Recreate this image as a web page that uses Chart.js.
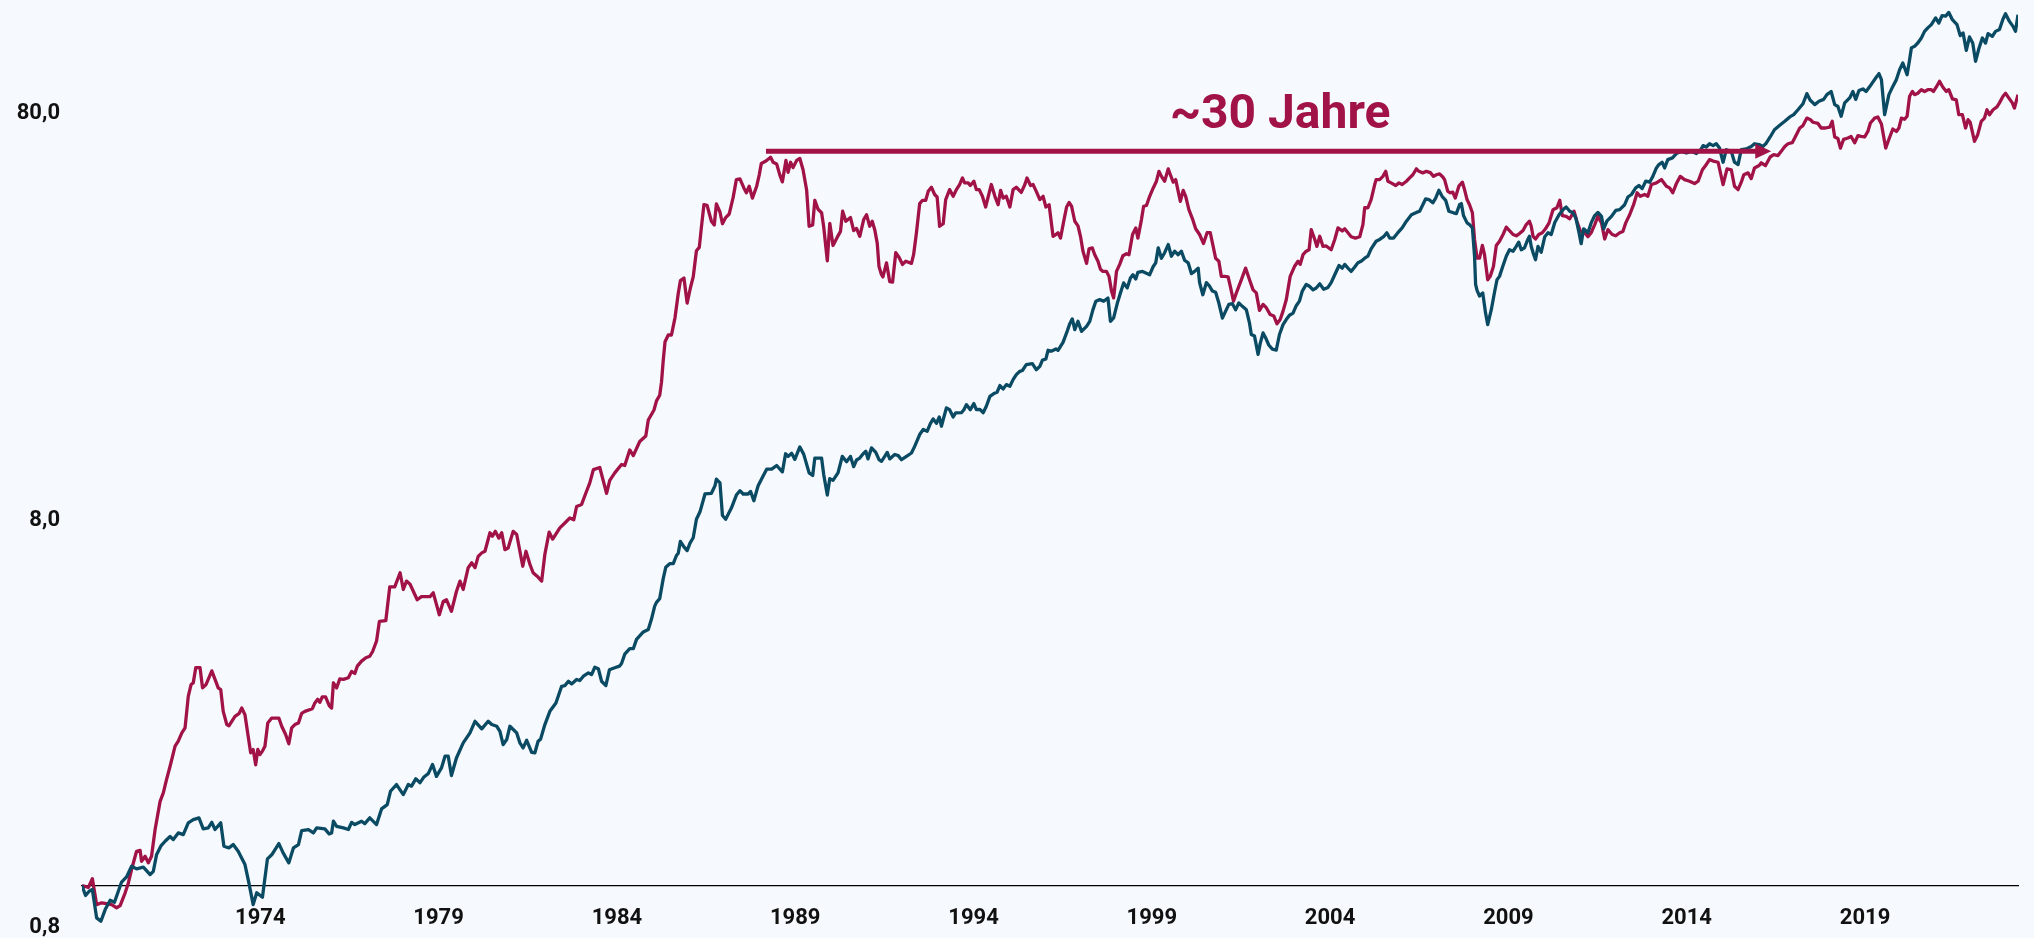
<!DOCTYPE html>
<html>
<head>
<meta charset="utf-8">
<script src="https://cdn.jsdelivr.net/npm/chart.js@4.4.1/dist/chart.umd.min.js"></script>
<style>
  html, body { margin: 0; padding: 0; background: #F6FAFE; }
  canvas { display: block; }
</style>
</head>
<body>
<canvas id="chart" width="2034" height="938"></canvas>
<script>
// tick labels
var yearTicks = [1974, 1979, 1984, 1989, 1994, 1999, 2004, 2009, 2014, 2019];
var valueTicks = [0.8, 8, 80];

// [year, index value]
var redPoints = [
  [1969.00, 1.00], [1969.18, 0.99], [1969.29, 1.04], [1969.41, 0.898], [1969.55, 0.907], [1969.69, 0.903], [1969.83, 0.898], [1969.97, 0.882],
  [1970.07, 0.893], [1970.21, 0.96], [1970.30, 1.015], [1970.39, 1.095], [1970.53, 1.214], [1970.63, 1.22], [1970.67, 1.147], [1970.77, 1.18],
  [1970.86, 1.137], [1970.95, 1.18], [1971.05, 1.373], [1971.19, 1.61], [1971.28, 1.69], [1971.37, 1.82], [1971.47, 1.964], [1971.61, 2.2],
  [1971.70, 2.263], [1971.80, 2.372], [1971.89, 2.44], [1971.98, 2.918], [1972.06, 3.12], [1972.12, 3.148], [1972.19, 3.43], [1972.31, 3.43],
  [1972.38, 3.06], [1972.48, 3.12], [1972.54, 3.21], [1972.64, 3.37], [1972.73, 3.21], [1972.82, 3.06], [1972.89, 3.03], [1972.96, 2.68],
  [1973.06, 2.487], [1973.12, 2.47], [1973.20, 2.533], [1973.29, 2.606], [1973.41, 2.65], [1973.48, 2.73], [1973.57, 2.63], [1973.66, 2.327],
  [1973.73, 2.12], [1973.80, 2.16], [1973.87, 1.98], [1973.93, 2.16], [1973.99, 2.098], [1974.06, 2.14], [1974.13, 2.2], [1974.21, 2.51],
  [1974.32, 2.58], [1974.52, 2.58], [1974.60, 2.463], [1974.71, 2.35], [1974.80, 2.23], [1974.88, 2.44], [1974.97, 2.487], [1975.07, 2.51],
  [1975.16, 2.65], [1975.25, 2.68], [1975.46, 2.72], [1975.53, 2.81], [1975.61, 2.87], [1975.67, 2.82], [1975.74, 2.91], [1975.83, 2.91],
  [1975.93, 2.77], [1976.00, 2.73], [1976.05, 3.15], [1976.14, 3.06], [1976.23, 3.22], [1976.33, 3.21], [1976.47, 3.24], [1976.56, 3.36],
  [1976.65, 3.32], [1976.72, 3.46], [1976.84, 3.56], [1976.96, 3.63], [1977.07, 3.66], [1977.15, 3.76], [1977.26, 3.99], [1977.34, 4.46],
  [1977.52, 4.48], [1977.63, 5.42], [1977.77, 5.42], [1977.92, 5.87], [1978.01, 5.34], [1978.10, 5.6], [1978.20, 5.5], [1978.40, 5.04],
  [1978.52, 5.13], [1978.76, 5.13], [1978.85, 5.24], [1979.02, 4.63], [1979.13, 4.99], [1979.22, 5.04], [1979.36, 4.72], [1979.50, 5.28],
  [1979.60, 5.6], [1979.69, 5.34], [1979.83, 6.04], [1979.93, 6.21], [1980.02, 6.04], [1980.11, 6.44], [1980.21, 6.57], [1980.30, 6.63],
  [1980.44, 7.36], [1980.51, 7.22], [1980.59, 7.42], [1980.69, 7.14], [1980.77, 7.36], [1980.86, 6.69], [1980.95, 6.75], [1981.09, 7.42],
  [1981.19, 7.29], [1981.36, 6.09], [1981.45, 6.63], [1981.56, 6.16], [1981.65, 5.87], [1981.77, 5.75], [1981.89, 5.6], [1981.98, 6.52],
  [1982.10, 7.39], [1982.20, 7.1], [1982.40, 7.57], [1982.54, 7.78], [1982.68, 8.0], [1982.79, 7.92], [1982.87, 8.54], [1983.01, 8.64],
  [1983.13, 9.22], [1983.24, 9.76], [1983.34, 10.52], [1983.52, 10.65], [1983.71, 9.2], [1983.80, 9.9], [1983.94, 10.33], [1984.13, 10.83],
  [1984.22, 10.77], [1984.36, 11.76], [1984.46, 11.39], [1984.64, 12.34], [1984.81, 12.73], [1984.88, 13.93], [1985.04, 14.74], [1985.11, 15.53],
  [1985.20, 16.03], [1985.25, 17.25], [1985.30, 19.55], [1985.35, 21.7], [1985.44, 22.54], [1985.53, 22.54], [1985.63, 24.87], [1985.72, 28.5],
  [1985.78, 30.65], [1985.88, 31.1], [1985.97, 27.0], [1986.06, 29.4], [1986.14, 31.3], [1986.23, 36.3], [1986.31, 37.0], [1986.37, 41.5],
  [1986.44, 47.1], [1986.53, 46.9], [1986.65, 42.9], [1986.73, 42.0], [1986.79, 47.3], [1986.89, 45.2], [1986.96, 42.3], [1987.05, 43.8],
  [1987.15, 44.7], [1987.26, 49.1], [1987.35, 54.3], [1987.45, 54.5], [1987.56, 51.8], [1987.63, 50.4], [1987.71, 52.3], [1987.80, 48.9],
  [1987.92, 52.3], [1987.99, 55.7], [1988.05, 59.5], [1988.18, 60.3], [1988.31, 61.6], [1988.38, 59.9], [1988.48, 59.3], [1988.57, 55.7],
  [1988.64, 53.6], [1988.74, 60.5], [1988.80, 56.6], [1988.87, 59.9], [1988.94, 58.1], [1989.04, 60.5], [1989.13, 61.2], [1989.22, 57.4],
  [1989.32, 51.2], [1989.39, 41.7], [1989.49, 42.0], [1989.55, 48.3], [1989.64, 45.9], [1989.74, 45.0], [1989.80, 41.5], [1989.90, 34.3],
  [1989.97, 42.4], [1990.06, 37.4], [1990.18, 39.2], [1990.27, 40.5], [1990.33, 45.4], [1990.42, 42.9], [1990.55, 43.8], [1990.64, 40.7],
  [1990.72, 41.2], [1990.81, 39.4], [1990.92, 43.3], [1991.00, 44.5], [1991.09, 41.7], [1991.16, 42.9], [1991.23, 40.9], [1991.30, 37.9],
  [1991.35, 33.2], [1991.42, 31.7], [1991.46, 31.3], [1991.56, 33.9], [1991.65, 30.5], [1991.73, 30.4], [1991.82, 35.9], [1991.91, 35.0],
  [1992.01, 33.6], [1992.10, 34.2], [1992.26, 33.8], [1992.32, 35.5], [1992.40, 40.2], [1992.49, 47.4], [1992.57, 48.3], [1992.66, 48.3],
  [1992.73, 50.8], [1992.82, 52.0], [1992.91, 49.9], [1992.98, 49.2], [1993.05, 41.7], [1993.15, 42.3], [1993.22, 48.5], [1993.33, 51.3],
  [1993.43, 49.4], [1993.52, 51.3], [1993.61, 52.8], [1993.69, 54.8], [1993.75, 53.3], [1993.85, 53.3], [1993.91, 52.5], [1994.01, 53.8],
  [1994.08, 51.3], [1994.16, 51.3], [1994.25, 49.4], [1994.34, 46.5], [1994.44, 50.4], [1994.50, 52.8], [1994.60, 49.4], [1994.69, 47.1],
  [1994.76, 51.1], [1994.83, 48.9], [1994.92, 49.4], [1995.02, 46.5], [1995.11, 51.3], [1995.20, 52.0], [1995.34, 50.5], [1995.44, 52.8],
  [1995.50, 54.8], [1995.60, 52.5], [1995.67, 52.8], [1995.76, 50.8], [1995.86, 48.5], [1995.95, 49.4], [1996.03, 46.5], [1996.12, 47.1],
  [1996.23, 39.4], [1996.31, 39.8], [1996.37, 40.2], [1996.44, 39.0], [1996.53, 42.9], [1996.61, 46.5], [1996.68, 47.7], [1996.75, 46.7],
  [1996.84, 42.9], [1996.93, 41.8], [1997.00, 39.4], [1997.07, 36.2], [1997.17, 33.8], [1997.24, 36.7], [1997.33, 36.9], [1997.40, 35.5],
  [1997.49, 34.2], [1997.56, 32.7], [1997.63, 32.3], [1997.73, 32.3], [1997.80, 31.4], [1997.87, 28.9], [1997.93, 27.8], [1998.01, 32.3],
  [1998.10, 33.6], [1998.19, 35.3], [1998.29, 35.7], [1998.36, 35.5], [1998.46, 39.8], [1998.55, 41.3], [1998.61, 39.0], [1998.71, 43.3],
  [1998.77, 46.7], [1998.85, 46.9], [1998.94, 49.4], [1999.04, 51.8], [1999.13, 53.8], [1999.20, 56.9], [1999.27, 55.3], [1999.36, 53.8],
  [1999.46, 57.7], [1999.52, 55.8], [1999.60, 53.5], [1999.67, 54.3], [1999.74, 50.8], [1999.80, 48.0], [1999.88, 51.1], [1999.95, 49.4],
  [2000.04, 45.8], [2000.14, 43.5], [2000.23, 41.1], [2000.34, 39.8], [2000.45, 37.8], [2000.55, 40.2], [2000.64, 40.2], [2000.71, 37.6],
  [2000.79, 34.8], [2000.88, 34.2], [2000.95, 31.4], [2001.04, 31.4], [2001.14, 31.3], [2001.20, 29.7], [2001.29, 27.3], [2001.39, 28.9],
  [2001.51, 30.8], [2001.63, 32.9], [2001.74, 30.8], [2001.84, 29.1], [2001.93, 28.6], [2002.02, 25.9], [2002.12, 26.8], [2002.21, 26.3],
  [2002.32, 25.3], [2002.42, 25.1], [2002.51, 24.0], [2002.60, 24.6], [2002.68, 25.8], [2002.77, 27.5], [2002.88, 31.4], [2003.00, 33.2],
  [2003.10, 34.2], [2003.16, 33.6], [2003.24, 35.5], [2003.33, 36.2], [2003.41, 36.5], [2003.47, 40.9], [2003.57, 38.7], [2003.63, 37.2],
  [2003.71, 39.4], [2003.80, 37.2], [2003.89, 37.3], [2004.03, 36.5], [2004.13, 38.7], [2004.22, 41.3], [2004.34, 40.6], [2004.41, 41.1],
  [2004.50, 40.2], [2004.59, 39.3], [2004.71, 39.0], [2004.83, 39.3], [2004.92, 42.1], [2004.97, 46.3], [2005.06, 46.3], [2005.15, 48.5],
  [2005.25, 52.8], [2005.29, 54.3], [2005.39, 54.3], [2005.48, 55.3], [2005.56, 56.9], [2005.62, 53.8], [2005.71, 53.3], [2005.84, 52.5],
  [2005.93, 53.3], [2006.02, 52.8], [2006.14, 53.8], [2006.23, 54.8], [2006.32, 55.8], [2006.42, 57.7], [2006.49, 56.9], [2006.60, 56.4],
  [2006.70, 56.9], [2006.81, 56.5], [2006.90, 55.3], [2006.98, 55.8], [2007.07, 56.1], [2007.16, 55.1], [2007.21, 54.3], [2007.30, 50.8],
  [2007.37, 50.4], [2007.44, 50.6], [2007.51, 48.9], [2007.61, 52.3], [2007.71, 53.5], [2007.77, 51.3], [2007.84, 48.5], [2007.91, 47.1],
  [2007.99, 45.0], [2008.05, 38.7], [2008.12, 34.8], [2008.19, 34.8], [2008.27, 37.4], [2008.33, 35.5], [2008.42, 30.8], [2008.49, 31.4],
  [2008.58, 33.2], [2008.66, 37.4], [2008.75, 38.3], [2008.85, 39.8], [2008.94, 41.5], [2009.03, 40.7], [2009.13, 39.8], [2009.22, 39.5],
  [2009.31, 40.0], [2009.41, 40.7], [2009.50, 42.1], [2009.59, 42.9], [2009.64, 41.7], [2009.69, 39.4], [2009.76, 38.8], [2009.85, 39.8],
  [2009.95, 40.2], [2010.04, 41.1], [2010.14, 42.5], [2010.25, 45.8], [2010.36, 46.3], [2010.44, 48.3], [2010.51, 44.3], [2010.62, 44.1],
  [2010.72, 43.5], [2010.84, 45.4], [2010.92, 42.9], [2011.02, 40.5], [2011.14, 40.2], [2011.23, 39.3], [2011.32, 40.2], [2011.42, 42.1],
  [2011.51, 44.1], [2011.61, 42.5], [2011.70, 38.8], [2011.79, 40.9], [2011.91, 39.8], [2012.01, 39.5], [2012.12, 40.2], [2012.21, 40.5],
  [2012.29, 42.5], [2012.40, 44.5], [2012.51, 47.1], [2012.61, 50.4], [2012.70, 49.4], [2012.82, 49.9], [2012.91, 49.4], [2013.01, 52.8],
  [2013.15, 53.3], [2013.29, 54.3], [2013.43, 52.3], [2013.52, 51.8], [2013.61, 50.4], [2013.71, 53.1], [2013.82, 55.3], [2013.94, 54.3],
  [2014.08, 53.8], [2014.22, 53.1], [2014.32, 53.8], [2014.44, 57.4], [2014.53, 58.8], [2014.64, 60.8], [2014.74, 60.3], [2014.88, 59.9],
  [2015.02, 52.8], [2015.13, 57.7], [2015.25, 57.4], [2015.34, 52.3], [2015.44, 51.3], [2015.53, 53.5], [2015.60, 55.8], [2015.72, 56.4],
  [2015.81, 54.6], [2015.90, 58.0], [2016.03, 58.8], [2016.09, 59.7], [2016.21, 58.8], [2016.34, 61.7], [2016.44, 62.5], [2016.56, 62.2],
  [2016.65, 63.7], [2016.75, 65.5], [2016.84, 66.5], [2016.96, 66.9], [2017.05, 69.3], [2017.17, 72.7], [2017.26, 73.7], [2017.37, 76.9],
  [2017.47, 76.2], [2017.54, 75.1], [2017.68, 74.6], [2017.77, 72.7], [2017.89, 72.7], [2018.01, 73.1], [2018.08, 75.5], [2018.15, 69.1],
  [2018.24, 68.5], [2018.31, 64.9], [2018.40, 68.2], [2018.52, 68.7], [2018.61, 69.3], [2018.71, 66.9], [2018.80, 69.6], [2018.89, 69.3],
  [2018.99, 69.1], [2019.08, 71.3], [2019.15, 74.8], [2019.27, 76.9], [2019.36, 77.4], [2019.46, 74.4], [2019.58, 64.9], [2019.67, 68.2],
  [2019.78, 72.3], [2019.88, 71.3], [2019.95, 72.7], [2020.02, 76.9], [2020.11, 76.4], [2020.18, 77.7], [2020.25, 87.0], [2020.33, 89.4],
  [2020.39, 87.8], [2020.48, 88.5], [2020.58, 90.3], [2020.67, 89.4], [2020.76, 90.3], [2020.86, 90.3], [2020.92, 89.4], [2021.00, 91.7],
  [2021.09, 94.7], [2021.18, 91.7], [2021.28, 89.4], [2021.35, 90.3], [2021.45, 85.7], [2021.56, 85.2], [2021.63, 78.4], [2021.73, 78.4],
  [2021.82, 72.7], [2021.89, 76.2], [2021.95, 75.1], [2022.07, 67.4], [2022.16, 70.0], [2022.26, 75.5], [2022.35, 76.9], [2022.42, 80.6],
  [2022.49, 78.4], [2022.59, 80.6], [2022.70, 81.9], [2022.77, 83.8], [2022.87, 87.0], [2022.94, 88.5], [2023.03, 86.2], [2023.13, 83.8],
  [2023.19, 81.4], [2023.29, 87.8]
];

var bluePoints = [
  [1969.00, 1.00], [1969.10, 0.945], [1969.20, 0.968], [1969.29, 0.978], [1969.41, 0.833], [1969.53, 0.817], [1969.65, 0.873], [1969.79, 0.92],
  [1969.91, 0.91], [1970.11, 1.02], [1970.25, 1.05], [1970.39, 1.115], [1970.53, 1.099], [1970.72, 1.11], [1970.91, 1.064], [1971.00, 1.084],
  [1971.09, 1.19], [1971.22, 1.254], [1971.33, 1.285], [1971.47, 1.32], [1971.56, 1.297], [1971.70, 1.347], [1971.84, 1.334], [1971.98, 1.426],
  [1972.12, 1.452], [1972.28, 1.467], [1972.40, 1.378], [1972.54, 1.386], [1972.64, 1.43], [1972.73, 1.373], [1972.89, 1.426], [1972.98, 1.249],
  [1973.12, 1.238], [1973.24, 1.261], [1973.38, 1.214], [1973.57, 1.126], [1973.68, 1.015], [1973.80, 0.898], [1973.90, 0.96], [1974.06, 0.936],
  [1974.20, 1.163], [1974.32, 1.19], [1974.52, 1.268], [1974.64, 1.203], [1974.80, 1.137], [1974.93, 1.238], [1975.07, 1.261], [1975.16, 1.365],
  [1975.35, 1.373], [1975.49, 1.347], [1975.58, 1.386], [1975.81, 1.378], [1975.93, 1.34], [1976.00, 1.347], [1976.05, 1.439], [1976.14, 1.398],
  [1976.33, 1.386], [1976.47, 1.373], [1976.56, 1.43], [1976.65, 1.412], [1976.84, 1.439], [1976.93, 1.42], [1977.07, 1.467], [1977.26, 1.412],
  [1977.40, 1.543], [1977.56, 1.581], [1977.65, 1.705], [1977.82, 1.771], [1978.01, 1.673], [1978.15, 1.771], [1978.24, 1.755], [1978.36, 1.829],
  [1978.48, 1.79], [1978.59, 1.849], [1978.71, 1.884], [1978.83, 1.983], [1978.94, 1.855], [1979.08, 1.946], [1979.18, 2.079], [1979.27, 2.079],
  [1979.36, 1.864], [1979.50, 2.058], [1979.69, 2.242], [1979.88, 2.372], [1980.02, 2.533], [1980.21, 2.427], [1980.39, 2.533], [1980.49, 2.487],
  [1980.63, 2.463], [1980.72, 2.394], [1980.81, 2.221], [1980.91, 2.285], [1981.00, 2.463], [1981.19, 2.372], [1981.28, 2.242], [1981.37, 2.179],
  [1981.47, 2.275], [1981.61, 2.126], [1981.70, 2.12], [1981.79, 2.263], [1981.86, 2.29], [1981.98, 2.487], [1982.12, 2.68], [1982.29, 2.81],
  [1982.45, 3.088], [1982.54, 3.1], [1982.64, 3.177], [1982.73, 3.13], [1982.87, 3.21], [1982.96, 3.19], [1983.06, 3.269], [1983.20, 3.33],
  [1983.29, 3.3], [1983.38, 3.439], [1983.48, 3.41], [1983.57, 3.177], [1983.69, 3.1], [1983.79, 3.39], [1983.94, 3.43], [1984.07, 3.46],
  [1984.13, 3.513], [1984.22, 3.703], [1984.36, 3.82], [1984.46, 3.82], [1984.55, 4.026], [1984.74, 4.2], [1984.88, 4.26], [1984.97, 4.516],
  [1985.06, 4.86], [1985.11, 4.964], [1985.20, 5.07], [1985.30, 5.686], [1985.37, 6.055], [1985.48, 6.18], [1985.58, 6.18], [1985.67, 6.473],
  [1985.72, 6.557], [1985.78, 7.01], [1985.88, 6.795], [1985.97, 6.654], [1986.05, 6.94], [1986.14, 7.157], [1986.23, 7.947], [1986.33, 8.287],
  [1986.47, 9.167], [1986.65, 9.204], [1986.75, 9.6], [1986.79, 9.97], [1986.89, 9.76], [1986.96, 8.115], [1987.05, 7.947], [1987.21, 8.463],
  [1987.35, 9.11], [1987.45, 9.34], [1987.54, 9.167], [1987.68, 9.167], [1987.75, 9.3], [1987.84, 8.826], [1987.96, 9.6], [1988.10, 10.15],
  [1988.20, 10.55], [1988.34, 10.55], [1988.48, 10.77], [1988.64, 10.39], [1988.73, 11.51], [1988.80, 11.34], [1988.90, 11.54], [1988.99, 11.15],
  [1989.13, 11.96], [1989.24, 11.47], [1989.39, 10.33], [1989.49, 10.18], [1989.55, 11.23], [1989.74, 11.23], [1989.80, 10.22], [1989.90, 9.11],
  [1989.97, 10.0], [1990.06, 9.9], [1990.20, 10.33], [1990.32, 11.34], [1990.44, 11.0], [1990.55, 11.34], [1990.64, 10.7], [1990.72, 11.11],
  [1990.81, 11.23], [1990.90, 11.5], [1990.98, 11.67], [1991.04, 11.18], [1991.14, 11.9], [1991.26, 11.6], [1991.35, 11.13], [1991.42, 11.03],
  [1991.51, 11.34], [1991.58, 11.6], [1991.65, 11.18], [1991.79, 11.46], [1991.89, 11.39], [1991.98, 11.13], [1992.12, 11.34], [1992.26, 11.56],
  [1992.35, 12.0], [1992.49, 12.83], [1992.59, 13.2], [1992.70, 13.07], [1992.79, 13.65], [1992.87, 14.02], [1992.96, 13.67], [1993.04, 14.18],
  [1993.10, 13.45], [1993.24, 14.92], [1993.33, 14.77], [1993.43, 14.17], [1993.50, 14.5], [1993.66, 14.52], [1993.73, 14.77], [1993.80, 15.2],
  [1993.91, 14.77], [1994.01, 15.29], [1994.08, 14.77], [1994.18, 14.8], [1994.27, 14.52], [1994.36, 15.06], [1994.46, 15.93], [1994.57, 16.18],
  [1994.66, 16.3], [1994.74, 16.93], [1994.83, 16.61], [1994.92, 17.02], [1995.02, 16.87], [1995.11, 17.51], [1995.20, 18.01], [1995.30, 18.35],
  [1995.37, 18.44], [1995.48, 19.06], [1995.65, 19.17], [1995.76, 18.52], [1995.86, 18.87], [1995.93, 19.53], [1996.03, 19.69], [1996.09, 20.67],
  [1996.18, 20.57], [1996.31, 20.83], [1996.37, 20.67], [1996.44, 21.14], [1996.51, 21.62], [1996.61, 22.8], [1996.70, 24.03], [1996.77, 24.69],
  [1996.84, 23.23], [1996.93, 24.35], [1997.03, 23.0], [1997.17, 23.67], [1997.26, 24.35], [1997.35, 26.02], [1997.43, 27.28], [1997.54, 27.53],
  [1997.65, 27.28], [1997.77, 27.79], [1997.84, 24.35], [1997.93, 24.83], [1998.03, 26.92], [1998.12, 28.59], [1998.21, 30.26], [1998.31, 29.42],
  [1998.40, 31.12], [1998.47, 31.7], [1998.55, 30.94], [1998.61, 32.13], [1998.74, 32.3], [1998.94, 31.7], [1999.04, 33.2], [1999.11, 33.9],
  [1999.18, 36.9], [1999.27, 34.8], [1999.36, 35.9], [1999.46, 37.6], [1999.55, 35.2], [1999.64, 36.2], [1999.74, 35.5], [1999.83, 36.2],
  [1999.92, 34.4], [2000.02, 33.9], [2000.11, 31.9], [2000.20, 32.3], [2000.30, 32.9], [2000.34, 30.3], [2000.43, 28.3], [2000.53, 30.3],
  [2000.62, 29.7], [2000.70, 28.9], [2000.79, 28.7], [2000.88, 27.0], [2000.98, 24.8], [2001.07, 25.8], [2001.16, 26.8], [2001.26, 26.9],
  [2001.35, 26.0], [2001.44, 27.0], [2001.54, 26.5], [2001.65, 26.0], [2001.74, 24.1], [2001.79, 22.6], [2001.88, 22.4], [2001.98, 20.2],
  [2002.04, 21.5], [2002.12, 22.8], [2002.19, 22.2], [2002.28, 21.3], [2002.38, 20.8], [2002.49, 20.7], [2002.58, 22.6], [2002.68, 23.9],
  [2002.77, 24.6], [2002.86, 25.2], [2002.96, 25.5], [2003.05, 26.6], [2003.14, 27.3], [2003.22, 28.9], [2003.33, 30.0], [2003.42, 29.7],
  [2003.52, 29.1], [2003.61, 29.4], [2003.71, 30.1], [2003.82, 29.2], [2003.94, 29.5], [2004.03, 30.3], [2004.13, 31.7], [2004.25, 33.4],
  [2004.34, 32.9], [2004.41, 33.6], [2004.50, 32.9], [2004.59, 32.3], [2004.69, 33.1], [2004.78, 33.9], [2004.87, 34.2], [2004.97, 34.8],
  [2005.06, 35.2], [2005.15, 36.7], [2005.29, 38.3], [2005.39, 38.7], [2005.50, 39.3], [2005.59, 40.2], [2005.67, 39.0], [2005.78, 39.0],
  [2005.90, 40.2], [2006.02, 41.3], [2006.14, 42.9], [2006.28, 44.5], [2006.42, 45.1], [2006.51, 45.4], [2006.60, 47.1], [2006.68, 48.7],
  [2006.77, 48.5], [2006.88, 47.6], [2006.96, 48.9], [2007.05, 51.1], [2007.14, 49.4], [2007.24, 48.3], [2007.33, 45.4], [2007.46, 45.0],
  [2007.54, 44.8], [2007.63, 47.1], [2007.68, 47.4], [2007.74, 44.3], [2007.84, 42.5], [2007.91, 42.1], [2007.99, 41.3], [2008.05, 35.2],
  [2008.08, 30.0], [2008.12, 29.0], [2008.19, 28.1], [2008.28, 28.6], [2008.36, 25.5], [2008.42, 23.9], [2008.52, 26.0], [2008.61, 28.7],
  [2008.68, 30.8], [2008.75, 31.4], [2008.85, 33.4], [2008.94, 35.2], [2009.03, 36.5], [2009.13, 36.2], [2009.22, 37.2], [2009.29, 38.1],
  [2009.36, 36.5], [2009.45, 36.9], [2009.55, 38.8], [2009.59, 39.4], [2009.64, 37.2], [2009.71, 35.5], [2009.76, 34.5], [2009.83, 37.2],
  [2009.92, 36.0], [2010.02, 39.3], [2010.11, 40.2], [2010.20, 39.8], [2010.30, 42.6], [2010.42, 44.5], [2010.53, 45.8], [2010.62, 46.5],
  [2010.72, 45.4], [2010.81, 45.0], [2010.89, 43.7], [2010.98, 40.2], [2011.04, 37.8], [2011.11, 41.1], [2011.23, 40.2], [2011.32, 42.5],
  [2011.42, 44.3], [2011.51, 45.1], [2011.61, 44.1], [2011.67, 41.1], [2011.76, 42.9], [2011.89, 44.1], [2012.01, 45.6], [2012.12, 45.8],
  [2012.26, 47.1], [2012.35, 49.2], [2012.45, 49.9], [2012.57, 51.8], [2012.66, 52.5], [2012.75, 51.6], [2012.85, 53.8], [2012.96, 53.5],
  [2013.05, 55.3], [2013.15, 58.0], [2013.22, 59.1], [2013.31, 59.9], [2013.38, 58.0], [2013.47, 60.8], [2013.60, 61.4], [2013.71, 62.9],
  [2013.85, 63.7], [2013.99, 63.1], [2014.13, 63.7], [2014.27, 62.9], [2014.41, 64.6], [2014.46, 65.8], [2014.55, 65.3], [2014.64, 66.5],
  [2014.74, 65.8], [2014.83, 66.5], [2014.92, 64.9], [2015.02, 59.9], [2015.11, 64.3], [2015.25, 63.7], [2015.34, 59.9], [2015.44, 59.1],
  [2015.53, 64.3], [2015.67, 64.6], [2015.81, 65.5], [2015.90, 66.5], [2016.03, 66.2], [2016.14, 65.5], [2016.23, 66.7], [2016.34, 69.1],
  [2016.46, 72.0], [2016.60, 73.7], [2016.75, 75.5], [2016.89, 77.4], [2017.00, 78.4], [2017.12, 80.6], [2017.26, 83.4], [2017.37, 88.3],
  [2017.46, 85.2], [2017.59, 83.0], [2017.71, 84.6], [2017.84, 85.5], [2017.93, 87.8], [2018.05, 89.4], [2018.15, 83.0], [2018.24, 82.1],
  [2018.33, 77.7], [2018.43, 83.8], [2018.57, 86.2], [2018.66, 89.4], [2018.74, 85.5], [2018.83, 89.9], [2018.94, 90.7], [2019.03, 89.4],
  [2019.17, 92.9], [2019.30, 96.5], [2019.39, 98.9], [2019.46, 95.6], [2019.55, 78.4], [2019.67, 87.8], [2019.78, 92.0], [2019.88, 95.6],
  [2019.97, 101.1], [2020.06, 105.0], [2020.18, 98.3], [2020.25, 107.0], [2020.30, 114.4], [2020.39, 115.4], [2020.48, 117.6], [2020.58, 121.0],
  [2020.67, 125.6], [2020.76, 128.1], [2020.86, 130.5], [2020.98, 135.5], [2021.07, 131.7], [2021.16, 137.3], [2021.26, 136.9], [2021.35, 139.8],
  [2021.45, 134.2], [2021.58, 130.5], [2021.67, 122.6], [2021.75, 124.5], [2021.84, 112.8], [2021.93, 121.7], [2022.02, 117.6], [2022.10, 106.0],
  [2022.19, 113.7], [2022.29, 121.0], [2022.38, 117.6], [2022.45, 124.0], [2022.57, 122.1], [2022.66, 125.6], [2022.77, 126.9], [2022.87, 134.7],
  [2022.94, 138.8], [2023.05, 132.9], [2023.15, 129.2], [2023.22, 125.6], [2023.29, 138.0]
];

// annotation: arrow across the flat stretch, with its label
var arrowFrom = 1988.18;
var arrowTo = 2016.37;
var arrowLevel = 63.7;
var arrowText = '~30 Jahre';
var arrowTextYear = 2002.6;
var arrowTextLevel = 72.9;

var RED = '#A11246';
var BLUE = '#0B4A63';
var BG = '#F6FAFE';
var tickFont = { family: 'Roboto', size: 22, weight: 'bold' };

var toXY = function(points) {
  return points.map(function(p) { return { x: p[0], y: p[1] }; });
};

var backgroundPlugin = {
  id: 'bg',
  beforeDraw: function(chart) {
    var ctx = chart.ctx;
    ctx.save();
    ctx.fillStyle = BG;
    ctx.fillRect(0, 0, chart.width, chart.height);
    ctx.restore();
  }
};

var arrowPlugin = {
  id: 'arrow',
  afterDatasetsDraw: function(chart) {
    var ctx = chart.ctx;
    var xs = chart.scales.x, ys = chart.scales.y;
    var x1 = xs.getPixelForValue(arrowFrom);
    var x2 = xs.getPixelForValue(arrowTo);
    var yy = ys.getPixelForValue(arrowLevel);
    var head = 16;
    ctx.save();
    ctx.strokeStyle = RED;
    ctx.fillStyle = RED;
    ctx.lineWidth = 5;
    ctx.beginPath();
    ctx.moveTo(x1, yy);
    ctx.lineTo(x2 - head + 2, yy);
    ctx.stroke();
    ctx.beginPath();
    ctx.moveTo(x2, yy);
    ctx.lineTo(x2 - head, yy - 7.5);
    ctx.lineTo(x2 - head, yy + 7.5);
    ctx.closePath();
    ctx.fill();

    ctx.font = 'bold 48px Roboto';
    ctx.textAlign = 'center';
    ctx.textBaseline = 'alphabetic';
    ctx.fillText(arrowText, xs.getPixelForValue(arrowTextYear), ys.getPixelForValue(arrowTextLevel));
    ctx.restore();
  }
};

var config = {
  type: 'line',
  data: {
    datasets: [
      { label: 'blue', data: toXY(bluePoints), borderColor: BLUE },
      { label: 'red', data: toXY(redPoints), borderColor: RED }
    ]
  },
  options: {
    responsive: false,
    animation: false,
    devicePixelRatio: 1,
    layout: { padding: { left: 0, right: 16, top: 0, bottom: 13 } },
    elements: {
      point: { radius: 0 },
      line: { borderWidth: 3.3, tension: 0, fill: false, borderJoinStyle: 'round' }
    },
    plugins: { legend: { display: false }, tooltip: { enabled: false } },
    scales: {
      x: {
        type: 'linear',
        min: 1969,
        max: 2023.29,
        position: { y: 1 },
        grid: { display: false, drawTicks: false },
        border: { display: true, color: '#000000', width: 1.3 },
        ticks: {
          padding: 20, color: '#111111', font: tickFont,
          autoSkip: false, maxRotation: 0,
          callback: function(v) { return String(v); }
        },
        afterBuildTicks: function(scale) {
          scale.ticks = yearTicks.map(function(v) { return { value: v }; });
        },
        afterFit: function(scale) {
          scale.paddingLeft = 0;
          scale.paddingRight = 0;
        }
      },
      y: {
        type: 'logarithmic',
        min: 0.8,
        max: 150,
        grid: { display: false, drawTicks: false },
        border: { display: false },
        ticks: {
          padding: 22, labelOffset: 2, color: '#111111', font: tickFont, autoSkip: false,
          callback: function(v) { return Number(v).toFixed(1).replace('.', ','); }
        },
        afterBuildTicks: function(scale) {
          scale.ticks = valueTicks.map(function(v) { return { value: v }; });
        },
        afterFit: function(scale) {
          scale.width = 82;
          scale.paddingTop = 0;
          scale.paddingBottom = 0;
        }
      }
    }
  },
  plugins: [backgroundPlugin, arrowPlugin]
};

var ctx = document.getElementById('chart').getContext('2d');
window.myChart = new Chart(ctx, config);
</script>
</body>
</html>
